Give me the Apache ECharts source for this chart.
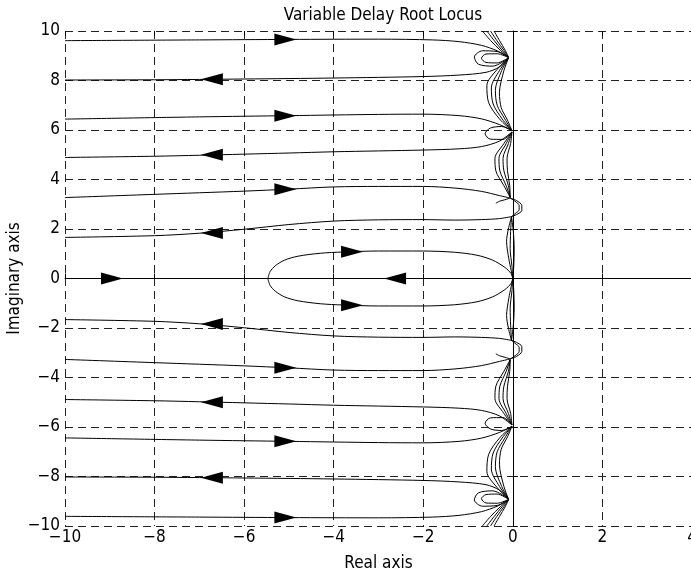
<!DOCTYPE html>
<html><head><meta charset="utf-8">
<script src="https://cdn.jsdelivr.net/npm/echarts@6/dist/echarts.min.js"></script>
<style>html,body{margin:0;padding:0;background:#fff}#c{width:691px;height:571px}</style>
</head><body><div id="c"></div>
<script>
// axis ticks
const xTicks = [-10, -8, -6, -4, -2, 0, 2, 4];
const yTicks = [-10, -8, -6, -4, -2, 0, 2, 4, 6, 8, 10];

// ---- upper half branches ----
const L96 = [[-10,9.61],[-7,9.64],[-5,9.66],[-3,9.67],[-1.8,9.64],[-1.2,9.57],[-0.7,9.42],[-0.35,9.2],[-0.1,8.95]];
const L80 = [[-0.1,8.92],[-0.3,8.55],[-0.6,8.33],[-1.2,8.22],[-2,8.16],[-4,8.1],[-6,8.06],[-8,8.03],[-10,8.02]];
const loop9a = [[-0.1,8.93],[-0.35,9.17],[-0.68,9.2],[-0.86,8.95],[-0.77,8.66],[-0.45,8.58],[-0.1,8.9]];
const loop9b = [[-0.1,8.93],[-0.35,9.08],[-0.6,9.07],[-0.7,8.9],[-0.6,8.73],[-0.35,8.71],[-0.1,8.92]];
const top9a = [[-0.68,10],[-0.5,9.62],[-0.28,9.22],[-0.1,8.95]];
const top9b = [[-0.58,10],[-0.42,9.62],[-0.24,9.22],[-0.1,8.95]];
const top9c = [[-0.5,10],[-0.36,9.62],[-0.2,9.22],[-0.1,8.95]];
const top9d = [[-0.42,10],[-0.3,9.62],[-0.17,9.22],[-0.1,8.95]];
const s96a = [[-0.1,8.9],[-0.35,8.45],[-0.58,7.8],[-0.54,7.1],[-0.3,6.45],[-0.02,5.97]];
const s96b = [[-0.1,8.9],[-0.3,8.4],[-0.48,7.7],[-0.44,7.05],[-0.24,6.45],[-0.02,5.97]];
const s96c = [[-0.1,8.9],[-0.25,8.4],[-0.39,7.6],[-0.35,7.0],[-0.18,6.45],[-0.02,5.97]];
const s96d = [[-0.1,8.9],[-0.2,8.4],[-0.3,7.5],[-0.26,6.9],[-0.12,6.4],[-0.02,5.97]];
const L65 = [[-10,6.44],[-7,6.53],[-5,6.58],[-3,6.63],[-2,6.64],[-1.2,6.58],[-0.7,6.45],[-0.3,6.22],[-0.02,5.98]];
const L49 = [[-0.02,5.92],[-0.3,5.55],[-0.7,5.33],[-1.2,5.24],[-2,5.19],[-4,5.12],[-5,5.07],[-7,4.98],[-8,4.94],[-10,4.89]];
const loop6 = [[-0.02,5.97],[-0.25,6.14],[-0.5,6.08],[-0.62,5.85],[-0.5,5.63],[-0.22,5.62],[-0.02,5.92]];
const s63a = [[-0.02,5.92],[-0.2,5.45],[-0.4,4.85],[-0.38,4.35],[-0.2,3.75],[-0.06,3.28]];
const s63b = [[-0.02,5.92],[-0.15,5.45],[-0.31,4.85],[-0.29,4.35],[-0.15,3.75],[-0.06,3.28]];
const s63c = [[-0.02,5.92],[-0.1,5.45],[-0.22,4.85],[-0.2,4.35],[-0.1,3.75],[-0.06,3.28]];
const s63d = [[-0.02,5.92],[-0.05,5.45],[-0.13,4.85],[-0.12,4.35],[-0.07,3.75],[-0.06,3.28]];
const C1 = [[-10,3.27],[-8,3.4],[-6,3.53],[-5,3.61],[-4,3.7],[-3,3.72],[-2,3.72],[-1.27,3.65],[-0.7,3.52],[-0.3,3.35],[-0.06,3.25]];
const hook3 = [[-0.38,3.04],[-0.3,3.12],[-0.18,3.18],[-0.06,3.25]];
const loop3a = [[-0.06,3.25],[0.08,3.15],[0.2,2.95],[0.2,2.75],[0.08,2.58],[-0.03,2.5]];
const loop3b = [[-0.06,3.25],[0.05,3.12],[0.14,2.95],[0.14,2.78],[0.05,2.62],[-0.03,2.5]];
const C2 = [[-0.03,2.5],[-0.3,2.42],[-0.7,2.38],[-1.3,2.36],[-2,2.38],[-3,2.37],[-4,2.32],[-5,2.18],[-6,1.99],[-7,1.83],[-8,1.73],[-10,1.66]];
const s30a = [[-0.03,2.5],[-0.1,2.0],[-0.14,1.5],[-0.09,0.8],[0,0]];
const s30b = [[-0.03,2.5],[-0.05,1.9],[-0.06,1.2],[-0.02,0.5],[0,0]];
const s30c = [[-0.03,2.5],[0.01,1.9],[0.03,1.2],[0.02,0.5],[0,0]];
const loopUp = [[-5.47,0],[-5.42,0.28],[-5.3,0.52],[-5.1,0.74],[-4.8,0.9],[-4.3,1.02],[-3.8,1.07],[-3,1.11],[-2,1.11],[-1.3,1.06],[-0.8,0.94],[-0.45,0.74],[-0.18,0.45],[-0.04,0.2],[0,0]];
const realAxis = [[-10,0],[0,0]];

// ---- lower half branches ----
const L96n = [[-10,-9.61],[-7,-9.64],[-5,-9.66],[-3,-9.67],[-1.8,-9.64],[-1.2,-9.57],[-0.7,-9.42],[-0.35,-9.2],[-0.1,-8.95]];
const L80n = [[-0.1,-8.92],[-0.3,-8.55],[-0.6,-8.33],[-1.2,-8.22],[-2,-8.16],[-4,-8.1],[-6,-8.06],[-8,-8.03],[-10,-8.02]];
const loop9an = [[-0.1,-8.93],[-0.35,-9.17],[-0.68,-9.2],[-0.86,-8.95],[-0.77,-8.66],[-0.45,-8.58],[-0.1,-8.9]];
const loop9bn = [[-0.1,-8.93],[-0.35,-9.08],[-0.6,-9.07],[-0.7,-8.9],[-0.6,-8.73],[-0.35,-8.71],[-0.1,-8.92]];
const bot9a = [[-0.68,-10],[-0.5,-9.62],[-0.28,-9.22],[-0.1,-8.95]];
const bot9b = [[-0.58,-10],[-0.42,-9.62],[-0.24,-9.22],[-0.1,-8.95]];
const bot9c = [[-0.5,-10],[-0.36,-9.62],[-0.2,-9.22],[-0.1,-8.95]];
const bot9d = [[-0.42,-10],[-0.3,-9.62],[-0.17,-9.22],[-0.1,-8.95]];
const s96an = [[-0.1,-8.9],[-0.35,-8.45],[-0.58,-7.8],[-0.54,-7.1],[-0.3,-6.45],[-0.02,-5.97]];
const s96bn = [[-0.1,-8.9],[-0.3,-8.4],[-0.48,-7.7],[-0.44,-7.05],[-0.24,-6.45],[-0.02,-5.97]];
const s96cn = [[-0.1,-8.9],[-0.25,-8.4],[-0.39,-7.6],[-0.35,-7.0],[-0.18,-6.45],[-0.02,-5.97]];
const s96dn = [[-0.1,-8.9],[-0.2,-8.4],[-0.3,-7.5],[-0.26,-6.9],[-0.12,-6.4],[-0.02,-5.97]];
const L65n = [[-10,-6.44],[-7,-6.53],[-5,-6.58],[-3,-6.63],[-2,-6.64],[-1.2,-6.58],[-0.7,-6.45],[-0.3,-6.22],[-0.02,-5.98]];
const L49n = [[-0.02,-5.92],[-0.3,-5.55],[-0.7,-5.33],[-1.2,-5.24],[-2,-5.19],[-4,-5.12],[-5,-5.07],[-7,-4.98],[-8,-4.94],[-10,-4.89]];
const loop6n = [[-0.02,-5.97],[-0.25,-6.14],[-0.5,-6.08],[-0.62,-5.85],[-0.5,-5.63],[-0.22,-5.62],[-0.02,-5.92]];
const s63an = [[-0.02,-5.92],[-0.2,-5.45],[-0.4,-4.85],[-0.38,-4.35],[-0.2,-3.75],[-0.06,-3.28]];
const s63bn = [[-0.02,-5.92],[-0.15,-5.45],[-0.31,-4.85],[-0.29,-4.35],[-0.15,-3.75],[-0.06,-3.28]];
const s63cn = [[-0.02,-5.92],[-0.1,-5.45],[-0.22,-4.85],[-0.2,-4.35],[-0.1,-3.75],[-0.06,-3.28]];
const s63dn = [[-0.02,-5.92],[-0.05,-5.45],[-0.13,-4.85],[-0.12,-4.35],[-0.07,-3.75],[-0.06,-3.28]];
const C1n = [[-10,-3.27],[-8,-3.4],[-6,-3.53],[-5,-3.61],[-4,-3.7],[-3,-3.72],[-2,-3.72],[-1.27,-3.65],[-0.7,-3.52],[-0.3,-3.35],[-0.06,-3.25]];
const hook3n = [[-0.38,-3.04],[-0.3,-3.12],[-0.18,-3.18],[-0.06,-3.25]];
const loop3an = [[-0.06,-3.25],[0.08,-3.15],[0.2,-2.95],[0.2,-2.75],[0.08,-2.58],[-0.03,-2.5]];
const loop3bn = [[-0.06,-3.25],[0.05,-3.12],[0.14,-2.95],[0.14,-2.78],[0.05,-2.62],[-0.03,-2.5]];
const C2n = [[-0.03,-2.5],[-0.3,-2.42],[-0.7,-2.38],[-1.3,-2.36],[-2,-2.38],[-3,-2.37],[-4,-2.32],[-5,-2.18],[-6,-1.99],[-7,-1.83],[-8,-1.73],[-10,-1.66]];
const s30an = [[-0.03,-2.5],[-0.1,-2.0],[-0.14,-1.5],[-0.09,-0.8],[0,0]];
const s30bn = [[-0.03,-2.5],[-0.05,-1.9],[-0.06,-1.2],[-0.02,-0.5],[0,0]];
const s30cn = [[-0.03,-2.5],[0.01,-1.9],[0.03,-1.2],[0.02,-0.5],[0,0]];
const loopDn = [[-5.47,0],[-5.42,-0.28],[-5.3,-0.52],[-5.1,-0.74],[-4.8,-0.9],[-4.3,-1.02],[-3.8,-1.07],[-3,-1.11],[-2,-1.11],[-1.3,-1.06],[-0.8,-0.94],[-0.45,-0.74],[-0.18,-0.45],[-0.04,-0.2],[0,0]];

// direction arrows (centre positions)
const arrowsRight = [[-5.08,9.66],[-5.08,6.58],[-5.08,3.61],[-8.95,0],[-3.59,1.08],[-3.59,-1.08],[-5.08,-3.61],[-5.08,-6.58],[-5.08,-9.66]];
const arrowsLeft = [[-6.72,8.05],[-6.72,5.0],[-6.72,1.84],[-2.63,0],[-6.72,-1.84],[-6.72,-5.0],[-6.72,-8.05]];

const branches = [L96,L80,loop9a,loop9b,top9a,top9b,top9c,top9d,s96a,s96b,s96c,s96d,L65,L49,loop6,s63a,s63b,s63c,s63d,C1,hook3,loop3a,loop3b,C2,s30a,s30b,s30c,loopUp,realAxis,
  L96n,L80n,loop9an,loop9bn,bot9a,bot9b,bot9c,bot9d,s96an,s96bn,s96cn,s96dn,L65n,L49n,loop6n,s63an,s63bn,s63cn,s63dn,C1n,hook3n,loop3an,loop3bn,C2n,s30an,s30bn,s30cn,loopDn];

const FONT = "'Liberation Sans Narrow', 'Arial Narrow', 'DejaVu Sans Condensed', 'Liberation Sans', sans-serif";
const fmt = v => String(v).replace('-', '\u2212');
const gridLine = {show: true, lineStyle: {color: '#222', width: 1, type: [8, 5]}};

const series = branches.map(d => ({
  type: 'line', data: d, showSymbol: false, smooth: 0.3, silent: true,
  lineStyle: {color: '#000', width: 1}, z: 3, animation: false
}));
series.push({type: 'scatter', data: arrowsRight, symbol: 'triangle', symbolSize: [12, 22], symbolRotate: -90,
  itemStyle: {color: '#000', opacity: 1}, z: 5, silent: true, animation: false});
series.push({type: 'scatter', data: arrowsLeft, symbol: 'triangle', symbolSize: [12, 22], symbolRotate: 90,
  itemStyle: {color: '#000', opacity: 1}, z: 5, silent: true, animation: false});

const chart = echarts.init(document.getElementById('c'), null, {renderer: 'canvas'});
chart.setOption({
  backgroundColor: '#fff',
  animation: false,
  title: {text: 'Variable Delay Root Locus', left: 378, textAlign: 'center', top: 2,
    textStyle: {fontFamily: FONT, fontSize: 17, fontWeight: 'normal', color: '#000'}},
  grid: {left: 65, right: -1, top: 31, bottom: 45, containLabel: false, outerBoundsMode: 'none'},
  xAxis: [{
    type: 'value', min: xTicks[0], max: xTicks[xTicks.length - 1], interval: 2,
    name: 'Real axis', nameLocation: 'middle', nameGap: 29,
    nameTextStyle: {fontFamily: FONT, fontSize: 17, color: '#000'},
    axisLine: {show: true, lineStyle: {color: '#000', width: 1}},
    axisTick: {show: true, inside: true, length: 5, lineStyle: {color: '#000'}},
    axisLabel: {fontFamily: FONT, fontSize: 17, color: '#000', margin: 3, formatter: fmt},
    splitLine: gridLine
  }, {
    type: 'value', position: 'top', min: xTicks[0], max: xTicks[xTicks.length - 1], interval: 2,
    axisLine: {show: false}, axisTick: {show: true, inside: true, length: 5, lineStyle: {color: '#000'}},
    axisLabel: {show: false}, splitLine: {show: false}
  }],
  yAxis: [{
    type: 'value', min: yTicks[0], max: yTicks[yTicks.length - 1], interval: 2,
    name: 'Imaginary axis', nameLocation: 'middle', nameGap: 42, nameMoveOverlap: false,
    nameTextStyle: {fontFamily: FONT, fontSize: 17, color: '#000'},
    axisLine: {show: true, lineStyle: {color: '#000', width: 1}},
    axisTick: {show: true, inside: true, length: 5, lineStyle: {color: '#000'}},
    axisLabel: {fontFamily: FONT, fontSize: 17, color: '#000', margin: 5, formatter: fmt},
    splitLine: gridLine
  }],
  series: series
});
</script></body></html>
